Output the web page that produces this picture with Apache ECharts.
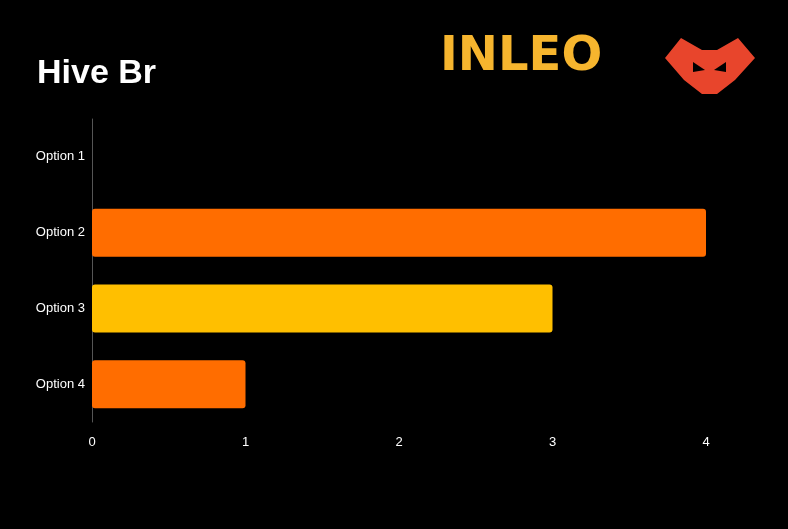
<!DOCTYPE html><html><head><meta charset="utf-8">
<script src="https://cdn.jsdelivr.net/npm/echarts@6/dist/echarts.min.js"></script>
<style>html,body{margin:0;background:#000}#c{width:788px;height:529px}</style></head><body><div id="c"></div>
<script>
const categories=['Option 1','Option 2','Option 3','Option 4'];
const values=[0,4,3,1];
const barColors=['#FF6D00','#FF6D00','#FFBF00','#FF6D00'];
const xTicks=[0,1,2,3,4];
const chart=echarts.init(document.getElementById('c'));
chart.setOption({
 backgroundColor:'#000',animation:false,
 title:{text:'Hive Br',left:32,top:52,textStyle:{color:'#fff',fontSize:34,fontWeight:'bold',fontFamily:'Arial, Liberation Sans'}},
 graphic:[
  {type:'text',left:440,top:34,style:{text:'INLEO',fill:'#F6B52E',font:'bold 48px "DejaVu Sans"'}},
  {type:'polygon',shape:{points:[[676,38],[697,50],[712,50],[733,38],[750,58],[730,80],[712,94],[697,94],[679,80],[660,58]].map(p=>[p[0]+5,p[1]])},style:{fill:'#E8452C'}},
  {type:'polygon',shape:{points:[[693,62],[705,70],[693,72]]},style:{fill:'#000'}},
  {type:'polygon',shape:{points:[[726,62],[714,70],[726,72]]},style:{fill:'#000'}}
 ],
 grid:{left:92,right:82,top:119,bottom:107},
 xAxis:{type:'value',min:0,max:4,interval:1,splitLine:{show:false},axisLine:{show:false},axisTick:{show:false},
  axisLabel:{color:'#fff',fontSize:13,margin:14,formatter:v=>xTicks.includes(v)?String(v):''}},
 yAxis:{type:'category',inverse:true,data:categories,axisTick:{show:false},
  axisLine:{show:true,lineStyle:{color:'#555'}},axisLabel:{color:'#fff',fontSize:13,margin:7}},
 series:[{type:'bar',barWidth:48,data:values.map((v,i)=>({value:v,itemStyle:{color:barColors[i],borderRadius:3}}))}]
});
</script></body></html>
